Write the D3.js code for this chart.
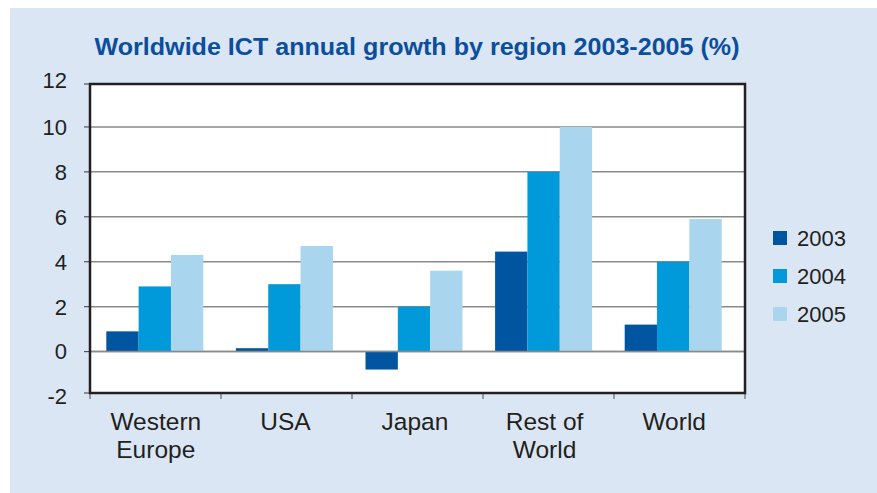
<!DOCTYPE html>
<html>
<head>
<meta charset="utf-8">
<script src="https://cdn.jsdelivr.net/npm/d3@7"></script>
<style>
  body { margin: 0; background: #ffffff; }
  svg { display: block; font-family: "Liberation Sans", Arial, Helvetica, sans-serif; }
</style>
</head>
<body>
<div id="chart"></div>
<script>
// --- données ---
const regions = ["Western Europe", "USA", "Japan", "Rest of World", "World"];
const regionLines = [["Western", "Europe"], ["USA"], ["Japan"], ["Rest of", "World"], ["World"]];
const annees = ["2003", "2004", "2005"];
const valeurs2003 = [0.9, 0.15, -0.8, 4.45, 1.2];
const valeurs2004 = [2.9, 3.0, 2.0, 8.0, 4.0];
const valeurs2005 = [4.3, 4.7, 3.6, 10.0, 5.9];
const yTicks = [-2, 0, 2, 4, 6, 8, 10, 12];
const couleurs = ["#0055a1", "#0099da", "#a9d5ef"];

const largeur = 877, hauteur = 493;
const series = [valeurs2003, valeurs2004, valeurs2005];

const svg = d3.select("#chart").append("svg")
  .attr("width", largeur)
  .attr("height", hauteur);

// fond bleu pâle
svg.append("rect")
  .attr("x", 10).attr("y", 8)
  .attr("width", largeur - 10).attr("height", hauteur - 8)
  .attr("fill", "#dbe6f4");

// titre
svg.append("text")
  .attr("x", 417).attr("y", 55)
  .attr("text-anchor", "middle")
  .attr("font-size", 24).attr("font-weight", "bold")
  .attr("fill", "#0b4f9c")
  .attr("textLength", 645).attr("lengthAdjust", "spacingAndGlyphs")
  .text("Worldwide ICT annual growth by region 2003-2005 (%)");

// zone du graphique
const gauche = 90, droite = 745, haut = 84, bas = 393;

// échelle des traits de l'axe X (cadre entier)
const xAxe = d3.scaleBand().domain(regions).range([gauche, droite]);
// échelle des barres (un peu plus courte, comme dans l'original)
const x = d3.scaleBand().domain(regions).range([gauche, 738]);
const xInner = d3.scaleBand().domain(annees).range([0, 97]).padding(0);
const y = d3.scaleLinear().domain([-2, 12]).range([396.5, 82]);

svg.append("rect")
  .attr("x", gauche).attr("y", haut)
  .attr("width", droite - gauche).attr("height", bas - haut)
  .attr("fill", "#ffffff");

// lignes de grille
svg.append("g")
  .selectAll("line")
  .data(yTicks.filter(d => d > -2 && d < 12))
  .join("line")
  .attr("x1", gauche).attr("x2", droite)
  .attr("y1", d => y(d)).attr("y2", d => y(d))
  .attr("stroke", "#8a8a8a").attr("stroke-width", 1.5);

// barres
const groupes = svg.append("g")
  .selectAll("g")
  .data(regions)
  .join("g")
  .attr("transform", d => `translate(${x(d) + (x.bandwidth() - 97) / 2},0)`);

groupes.selectAll("rect")
  .data((d, i) => annees.map((a, k) => ({ annee: a, v: series[k][i], k })))
  .join("rect")
  .attr("x", d => xInner(d.annee))
  .attr("width", xInner.bandwidth())
  .attr("y", d => y(Math.max(0, d.v)))
  .attr("height", d => Math.abs(y(d.v) - y(0)))
  .attr("fill", d => couleurs[d.k]);

// ligne zéro par-dessus
svg.append("line")
  .attr("x1", gauche).attr("x2", droite)
  .attr("y1", y(0)).attr("y2", y(0))
  .attr("stroke", "#8a8a8a").attr("stroke-width", 1.5);

// axe Y : petits traits + étiquettes
const axeY = svg.append("g");
axeY.selectAll("line")
  .data(yTicks)
  .join("line")
  .attr("x1", gauche - 6).attr("x2", gauche)
  .attr("y1", d => d === 12 ? haut : d === -2 ? bas : y(d))
  .attr("y2", d => d === 12 ? haut : d === -2 ? bas : y(d))
  .attr("stroke", "#555").attr("stroke-width", 1.2);
axeY.selectAll("text")
  .data(yTicks)
  .join("text")
  .attr("x", 67)
  .attr("y", d => (d === 12 ? 80 : d === -2 ? 396 : y(d)))
  .attr("dy", "0.36em")
  .attr("text-anchor", "end")
  .attr("font-size", 22)
  .attr("fill", "#231f20")
  .text(d => d);

// axe X : traits entre les catégories
const bornes = regions.map(r => xAxe(r)).concat([droite]);
svg.append("g")
  .selectAll("line")
  .data(bornes)
  .join("line")
  .attr("x1", d => d).attr("x2", d => d)
  .attr("y1", bas).attr("y2", bas + 6)
  .attr("stroke", "#666").attr("stroke-width", 1.2);

// cadre
svg.append("rect")
  .attr("x", gauche).attr("y", haut)
  .attr("width", droite - gauche).attr("height", bas - haut)
  .attr("fill", "none")
  .attr("stroke", "#231f20").attr("stroke-width", 2.5);

// étiquettes des régions
const etiquettes = svg.append("g")
  .selectAll("text")
  .data(regions)
  .join("text")
  .attr("text-anchor", "middle")
  .attr("font-size", 24.5)
  .attr("fill", "#231f20");
etiquettes.each(function(d, i) {
  const t = d3.select(this);
  regionLines[i].forEach((ligne, j) => {
    t.append("tspan")
      .attr("x", x(d) + x.bandwidth() / 2 + 1)
      .attr("y", 430 + j * 28)
      .text(ligne);
  });
});

// légende
const legende = svg.append("g")
  .selectAll("g")
  .data(annees)
  .join("g")
  .attr("transform", (d, i) => `translate(773,${231 + i * 38})`);
legende.append("rect")
  .attr("width", 14).attr("height", 14)
  .attr("fill", (d, i) => couleurs[i]);
legende.append("text")
  .attr("x", 24).attr("y", 7)
  .attr("dy", "0.36em")
  .attr("font-size", 22)
  .attr("fill", "#231f20")
  .text(d => d);
</script>
</body>
</html>
